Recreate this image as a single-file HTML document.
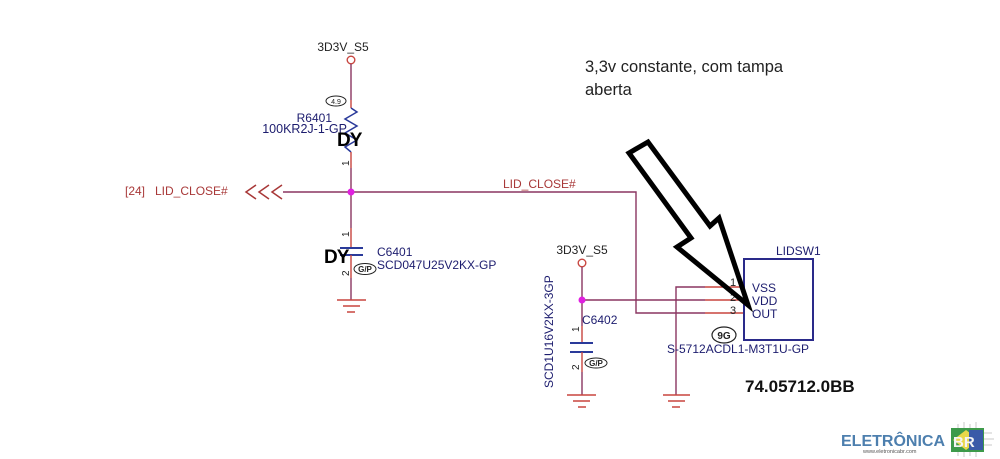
<!DOCTYPE html>
<html><head><meta charset="utf-8"><style>
html,body{margin:0;padding:0;background:#fff;}
svg{display:block;}
text{font-family:"Liberation Sans",Arial,sans-serif;}
</style></head><body>
<svg width="1000" height="459" viewBox="0 0 1000 459" xmlns="http://www.w3.org/2000/svg">
<rect width="1000" height="459" fill="#fff"/>

<!-- ===== Left circuit ===== -->
<text x="343" y="51" font-size="12" fill="#222" text-anchor="middle">3D3V_S5</text>
<circle cx="351" cy="60" r="3.8" fill="none" stroke="#c8453f" stroke-width="1.4"/>
<line x1="351" y1="64" x2="351" y2="100" stroke="#8a3560" stroke-width="1.4"/>
<line x1="351" y1="100" x2="351" y2="108" stroke="#c8453f" stroke-width="1.4"/>
<polyline points="351,108 357,112 345,119 357,126 345,133 357,140 345,147 351,152" fill="none" stroke="#2a3a9a" stroke-width="1.5"/>
<line x1="351" y1="152" x2="351" y2="168" stroke="#c8453f" stroke-width="1.4"/>
<line x1="351" y1="168" x2="351" y2="228" stroke="#8a3560" stroke-width="1.4"/>
<line x1="351" y1="228" x2="351" y2="248" stroke="#c8453f" stroke-width="1.4"/>
<line x1="340" y1="248" x2="363" y2="248" stroke="#2a3a9a" stroke-width="2"/>
<line x1="340" y1="255" x2="363" y2="255" stroke="#2a3a9a" stroke-width="2"/>
<line x1="351" y1="255" x2="351" y2="278" stroke="#c8453f" stroke-width="1.4"/>
<line x1="351" y1="278" x2="351" y2="300" stroke="#8a3560" stroke-width="1.4"/>
<!-- ground 1 -->
<line x1="337" y1="300" x2="366" y2="300" stroke="#c8453f" stroke-width="1.5"/>
<line x1="343" y1="306" x2="360" y2="306" stroke="#c8453f" stroke-width="1.5"/>
<line x1="347" y1="312" x2="355" y2="312" stroke="#c8453f" stroke-width="1.5"/>

<!-- pin numbers left -->
<text transform="translate(349,166) rotate(-90)" font-size="10" fill="#222">1</text>
<text transform="translate(349,237) rotate(-90)" font-size="10" fill="#222">1</text>
<text transform="translate(349,276) rotate(-90)" font-size="10" fill="#222">2</text>

<!-- badges -->
<ellipse cx="336" cy="101" rx="10" ry="5" fill="#fff" stroke="#222" stroke-width="1"/>
<text x="336" y="104" font-size="7" fill="#222" text-anchor="middle">4.9</text>
<ellipse cx="365" cy="269" rx="11" ry="5.5" fill="#fff" stroke="#222" stroke-width="1"/>
<text x="365" y="272" font-size="8" font-weight="bold" fill="#222" text-anchor="middle">G/P</text>

<text x="332" y="122" font-size="12" fill="#1c1c6e" text-anchor="end">R6401</text>
<text x="347" y="133" font-size="12.5" fill="#1c1c6e" text-anchor="end">100KR2J-1-GP</text>
<text x="337" y="146" font-size="19" font-weight="bold" fill="#000" letter-spacing="-1">DY</text>

<text x="324" y="263" font-size="19" font-weight="bold" fill="#000" letter-spacing="-1">DY</text>
<text x="377" y="256" font-size="12" fill="#1c1c6e">C6401</text>
<text x="377" y="269" font-size="12" fill="#1c1c6e">SCD047U25V2KX-GP</text>

<!-- LID_CLOSE net -->
<text x="125" y="195" font-size="12" fill="#a83838">[24]</text>
<text x="155" y="195" font-size="12" fill="#a83838">LID_CLOSE#</text>
<polyline points="256,185 246,192 256,199" fill="none" stroke="#a83838" stroke-width="1.5"/>
<polyline points="269,185 259,192 269,199" fill="none" stroke="#a83838" stroke-width="1.5"/>
<polyline points="282,185 272,192 282,199" fill="none" stroke="#a83838" stroke-width="1.5"/>
<polyline points="283,192 636,192 636,313 705,313" fill="none" stroke="#8a3560" stroke-width="1.4"/>
<line x1="705" y1="313" x2="744" y2="313" stroke="#c8453f" stroke-width="1.4"/>
<circle cx="351" cy="192" r="3.5" fill="#e020e0"/>
<text x="503" y="188" font-size="12" fill="#a83838">LID_CLOSE#</text>

<!-- ===== Right circuit ===== -->
<text x="582" y="254" font-size="12" fill="#222" text-anchor="middle">3D3V_S5</text>
<circle cx="582" cy="263" r="3.8" fill="none" stroke="#c8453f" stroke-width="1.4"/>
<line x1="582" y1="267" x2="582" y2="326" stroke="#8a3560" stroke-width="1.4"/>
<line x1="582" y1="326" x2="582" y2="343" stroke="#c8453f" stroke-width="1.4"/>
<line x1="570" y1="343" x2="593" y2="343" stroke="#2a3a9a" stroke-width="2"/>
<line x1="570" y1="352" x2="593" y2="352" stroke="#2a3a9a" stroke-width="2"/>
<line x1="582" y1="352" x2="582" y2="372" stroke="#c8453f" stroke-width="1.4"/>
<line x1="582" y1="372" x2="582" y2="395" stroke="#8a3560" stroke-width="1.4"/>
<line x1="567" y1="395" x2="596" y2="395" stroke="#c8453f" stroke-width="1.5"/>
<line x1="573" y1="401" x2="590" y2="401" stroke="#c8453f" stroke-width="1.5"/>
<line x1="578" y1="407" x2="586" y2="407" stroke="#c8453f" stroke-width="1.5"/>
<line x1="582" y1="300" x2="705" y2="300" stroke="#8a3560" stroke-width="1.4"/>
<line x1="705" y1="300" x2="744" y2="300" stroke="#c8453f" stroke-width="1.4"/>
<circle cx="582" cy="300" r="3.5" fill="#e020e0"/>

<text x="582" y="324" font-size="12" fill="#1c1c6e">C6402</text>
<text transform="translate(579,332) rotate(-90)" font-size="10" fill="#222">1</text>
<text transform="translate(579,370) rotate(-90)" font-size="10" fill="#222">2</text>
<ellipse cx="596" cy="363" rx="11" ry="5" fill="#fff" stroke="#222" stroke-width="1"/>
<text x="596" y="366" font-size="8" font-weight="bold" fill="#222" text-anchor="middle">G/P</text>
<text transform="translate(553,388) rotate(-90)" font-size="12" fill="#1c1c6e">SCD1U16V2KX-3GP</text>

<!-- VSS wire -->
<polyline points="705,287 676,287 676,395" fill="none" stroke="#8a3560" stroke-width="1.4"/>
<line x1="705" y1="287" x2="744" y2="287" stroke="#c8453f" stroke-width="1.4"/>
<line x1="663" y1="395" x2="690" y2="395" stroke="#c8453f" stroke-width="1.5"/>
<line x1="668" y1="401" x2="685" y2="401" stroke="#c8453f" stroke-width="1.5"/>
<line x1="672" y1="407" x2="680" y2="407" stroke="#c8453f" stroke-width="1.5"/>

<!-- switch box -->
<rect x="744" y="259" width="69" height="81" fill="none" stroke="#2a2a8a" stroke-width="2"/>
<text x="776" y="255" font-size="12" fill="#1c1c6e">LIDSW1</text>
<text x="752" y="292" font-size="12" fill="#1c1c6e">VSS</text>
<text x="752" y="305" font-size="12" fill="#1c1c6e">VDD</text>
<text x="752" y="318" font-size="12" fill="#1c1c6e">OUT</text>
<text x="730" y="286" font-size="11" fill="#222">1</text>
<text x="730" y="301" font-size="11" fill="#222">2</text>
<text x="730" y="314" font-size="11" fill="#222">3</text>
<ellipse cx="724" cy="335" rx="12" ry="8" fill="#fff" stroke="#222" stroke-width="1.2"/>
<text x="724" y="339" font-size="10" font-weight="bold" fill="#222" text-anchor="middle">9G</text>
<text x="667" y="353" font-size="12" fill="#1c1c6e">S-5712ACDL1-M3T1U-GP</text>
<text x="745" y="392" font-size="17" font-weight="bold" fill="#111">74.05712.0BB</text>

<!-- annotation -->
<text x="585" y="72" font-size="16.5" fill="#222">3,3v constante, com tampa</text>
<text x="585" y="95" font-size="16.5" fill="#222">aberta</text>

<!-- big arrow -->
<polygon points="629,153 648,142 710,226 719,218 748,305 677,247 691,238" fill="none" stroke="#000" stroke-width="5" stroke-linejoin="miter"/>

<!-- logo -->
<text x="841" y="446" font-size="16" font-weight="bold" fill="#4d7fae">ELETRÔNICA</text>
<text x="863" y="453" font-size="5.5" fill="#555">www.eletronicabr.com</text>
<g stroke="#bbb" stroke-width="0.8">
<line x1="958" y1="424" x2="958" y2="428"/><line x1="964" y1="422" x2="964" y2="428"/><line x1="970" y1="424" x2="970" y2="428"/><line x1="976" y1="422" x2="976" y2="428"/>
<line x1="958" y1="452" x2="958" y2="456"/><line x1="964" y1="452" x2="964" y2="457"/><line x1="970" y1="452" x2="970" y2="456"/><line x1="976" y1="452" x2="976" y2="457"/>
<line x1="984" y1="433" x2="992" y2="433"/><line x1="984" y1="439" x2="994" y2="439"/><line x1="984" y1="445" x2="992" y2="445"/>
</g>
<rect x="951" y="428" width="33" height="24" fill="#3d9a4a"/>
<polygon points="953,440 966,430 979,440 966,450" fill="#e8d84a"/>
<rect x="969" y="430" width="14" height="20" fill="#3a5aa8"/>
<text x="953" y="447" font-size="15" font-weight="bold" fill="#f4f4f4">BR</text>
</svg>
</body></html>
